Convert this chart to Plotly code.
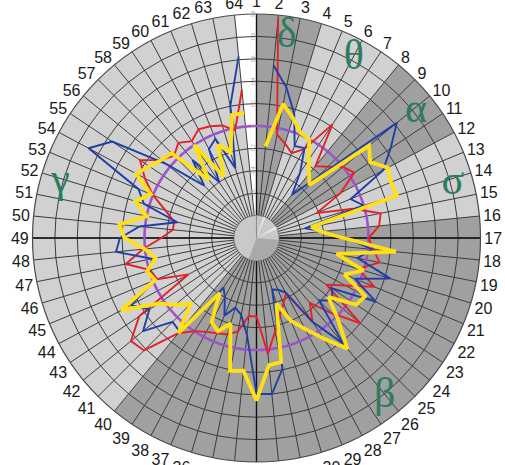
import numpy as np
import plotly.graph_objects as go

# ---- figure geometry (pixels) ----
W, H = 505, 465
CX, CY, R = 256.5, 238.0, 224.0
N = 64
STEP = 360.0 / N
RMIN, RMAX = -0.8, 1.0          # radial range outside the central disk

# ---- data ----
spoke_labels = [str(k) for k in range(1, N + 1)]
spokes = list(range(2, N + 1))   # spoke 1 sits in the blank sector

red = [0.97, -0.06, -0.12, -0.18, -0.10, 0.22, -0.17, -0.10, 0.00, 0.05,
       -0.15, -0.42, -0.10, 0.13, 0.10, 0.00, 0.05, 0.12, -0.05, 0.14,
       -0.10, -0.25, 0.20, -0.05, -0.25, -0.10, -0.44, -0.37, -0.28, -0.15,
       0.04, -0.30, -0.30, -0.15, -0.10, -0.08, -0.05, 0.00, 0.10, 0.42,
       0.45, 0.26, -0.31, -0.04, -0.01, 0.19, 0.02, -0.15, -0.25, -0.25,
       -0.15, 0.00, 0.13, 0.25, 0.10, 0.04, 0.10, 0.04, 0.10, 0.08,
       0.05, -0.02, 0.33]

blue = [0.55, 0.37, 0.16, -0.11, -0.09, -0.30, -0.50, -0.24, 0.62, 0.44,
        0.28, -0.09, 0.00, -0.56, -0.40, -0.20, 0.04, -0.08, 0.25, -0.05,
        0.21, -0.19, -0.12, -0.21, 0.22, -0.10, -0.45, -0.50, -0.52, 0.19,
        0.40, 0.39, -0.13, -0.30, -0.35, -0.25, -0.40, -0.47, 0.08, 0.06,
        0.31, 0.15, 0.27, -0.02, 0.00, -0.05, 0.26, 0.22, 0.05, -0.28,
        0.05, 0.14, 0.70, 0.55, 0.04, -0.34, -0.10, -0.40, -0.10, -0.04,
        -0.35, 0.20, 0.63]

yellow = [-0.18, 0.22, 0.12, 0.02, 0.00, -0.16, -0.26, -0.33, 0.30, 0.22,
          0.33, 0.30, 0.31, -0.50, -0.42, -0.22, 0.25, -0.27, 0.00, -0.15,
          0.10, 0.07, -0.17, 0.03, 0.28, 0.08, -0.08, -0.20, -0.39, 0.13,
          0.14, 0.45, 0.19, 0.21, -0.20, -0.10, -0.15, -0.41, 0.10, -0.17,
          -0.06, 0.05, 0.37, -0.02, 0.02, -0.08, 0.00, 0.18, 0.23, 0.00,
          0.13, 0.02, 0.22, 0.15, 0.10, 0.07, -0.33, 0.00, -0.38, -0.10,
          -0.20, 0.12, 0.12]

reference_level = 0.0

# zones: letter, first spoke, last spoke, shade, letter angle
zone_names = ["δ", "θ", "α", "σ", "β", "γ", ""]
zone_start = [1, 4, 8, 12, 16, 40, 64]
zone_end = [4, 8, 12, 16, 40, 64, 65]
zone_shade = ["dark", "light", "dark", "light", "dark", "light", "blank"]
zone_letter_angle = [8.5, 28.5, 51.5, 74.5, 141.0, 286.0, None]

SHADES = {"dark": "#a0a0a0", "light": "#d1d1d1", "blank": "#ffffff"}


def ang(k):
    return (k - 1) * STEP


def to_paper(theta_deg, rpx):
    a = np.radians(theta_deg)
    x = CX + rpx * np.sin(a)
    y = CY - rpx * np.cos(a)
    return x / W, 1 - y / H


def wedge_path(t0, t1, r0, r1):
    n = max(2, int(abs(t1 - t0) / 0.5) + 1)
    ts = np.linspace(t0, t1, n)
    pts = [to_paper(t, r1) for t in ts]
    pts += [to_paper(t, r0) for t in ts[::-1]] if r0 > 0 else [to_paper(0, 0)]
    return "M " + " L ".join(f"{x:.5f},{y:.5f}" for x, y in pts) + " Z"


shapes = []
for s0, s1, shade in zip(zone_start, zone_end, zone_shade):
    shapes.append(dict(type="path", xref="paper", yref="paper", layer="below",
                       path=wedge_path(ang(s0), ang(s1), 0, R),
                       fillcolor=SHADES[shade], line=dict(width=0)))

# central disk
r_disk = R * 0.1
shapes.append(dict(type="path", xref="paper", yref="paper", layer="above",
                   path=wedge_path(0, 360, 0, r_disk),
                   fillcolor="#c9c9c9", line=dict(color="#8a8a8a", width=0.8)))
shapes.append(dict(type="path", xref="paper", yref="paper", layer="above",
                   path=wedge_path(95, 200, 0, r_disk),
                   fillcolor="#a9a9a9", line=dict(width=0)))
for t0, t1 in [(18, 24), (58, 66)]:
    shapes.append(dict(type="path", xref="paper", yref="paper", layer="above",
                       path=wedge_path(t0, t1, 0, r_disk),
                       fillcolor="#e6e6e6", line=dict(width=0)))

fig = go.Figure()

# quadrant axes drawn darker
for t in [0, 90, 180, 270]:
    fig.add_trace(go.Scatterpolar(r=[RMIN, RMAX], theta=[t, t], mode="lines",
                                  line=dict(color="#111111", width=1.4),
                                  hoverinfo="skip", showlegend=False))

# reference circle
circ_t = np.linspace(0, 360, 361)
fig.add_trace(go.Scatterpolar(r=[reference_level] * len(circ_t), theta=circ_t,
                              mode="lines", line=dict(color="#9b55c6", width=2.6),
                              hoverinfo="skip", showlegend=False))

theta = [ang(k) for k in spokes]
for vals, col, wid in [(red, "#e5202a", 1.9), (blue, "#1f3fa6", 1.9),
                       (yellow, "#ffe014", 3.8)]:
    fig.add_trace(go.Scatterpolar(r=vals, theta=theta, mode="lines",
                                  line=dict(color=col, width=wid),
                                  showlegend=False))

# zone letters
for name, a in zip(zone_names, zone_letter_angle):
    if name:
        fig.add_trace(go.Scatterpolar(r=[0.82], theta=[a], mode="text", text=[name],
                                      textfont=dict(family="Liberation Serif, DejaVu Serif",
                                                    size=42, color="#2c7c5e"),
                                      hoverinfo="skip", showlegend=False))

fig.update_layout(
    width=W, height=H,
    margin=dict(l=0, r=0, t=0, b=0),
    paper_bgcolor="white",
    showlegend=False,
    shapes=shapes,
    polar=dict(
        domain=dict(x=[(CX - R) / W, (CX + R) / W], y=[1 - (CY + R) / H, 1 - (CY - R) / H]),
        bgcolor="rgba(0,0,0,0)",
        hole=0.1,
        angularaxis=dict(
            rotation=90, direction="clockwise",
            tickmode="array", tickvals=[ang(k) for k in range(1, N + 1)],
            ticktext=spoke_labels, ticks="",
            showgrid=True, gridcolor="#3c3c3c", gridwidth=0.8,
            showline=True, linecolor="#4a4a4a", linewidth=1.2,
            tickfont=dict(family="Liberation Sans Narrow, Arial Narrow, Liberation Sans",
                          size=16, color="#1a1a1a"),
        ),
        radialaxis=dict(
            range=[RMIN, RMAX], tickmode="array",
            tickvals=[-0.6, -0.4, -0.2, 0, 0.2, 0.4, 0.6, 0.8, 1.0],
            ticktext=["-0,6", "-0,4", "-0,2", "0", "0,2", "0,4", "0,6", "0,8", "1,0"],
            showgrid=True, gridcolor="#3c3c3c", gridwidth=0.8,
            showline=False, ticks="", angle=90, tickangle=0,
            side="counterclockwise",
            tickfont=dict(size=5, color="#a0a0a0"),
        ),
    ),
)

fig.write_html("out.html")
